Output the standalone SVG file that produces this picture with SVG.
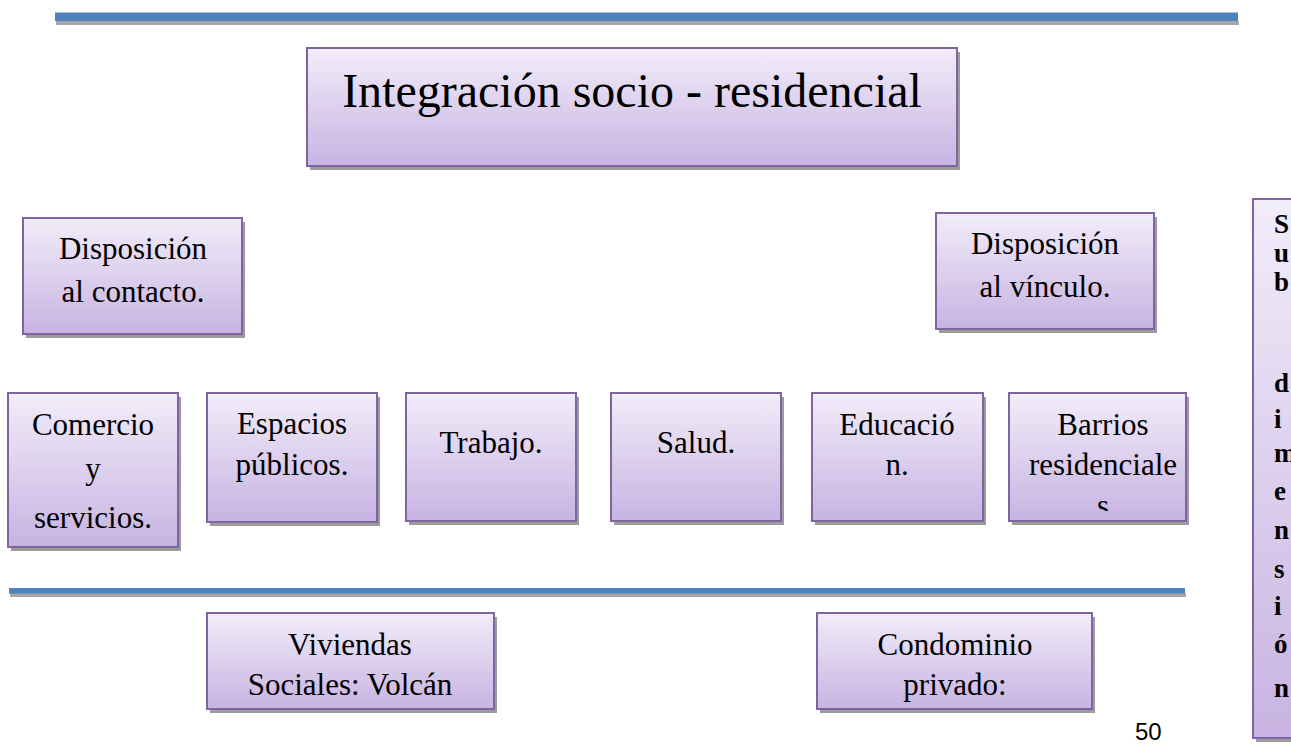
<svg xmlns="http://www.w3.org/2000/svg" width="1291" height="749" viewBox="0 0 1291 749">
<style>
.box{fill:url(#g);stroke:#8064a2;stroke-width:2}
.sh{fill:#9c9c9c}
.t{font-family:"Liberation Serif","Times New Roman",serif;font-size:31px;fill:#000;text-anchor:middle}
.tt{font-family:"Liberation Serif","Times New Roman",serif;font-size:48px;fill:#000;text-anchor:middle}
.v{font-family:"Liberation Serif","Times New Roman",serif;font-size:27px;font-weight:bold;fill:#000}
.blue{fill:#4f81bd}
.bsh{fill:#a6a6a6}
</style>
<defs>
<linearGradient id="g" x1="0" y1="0" x2="0" y2="1">
<stop offset="0" stop-color="#f1edf9"/>
<stop offset="1" stop-color="#c8b3e2"/>
</linearGradient>
<clipPath id="cb"><rect x="1009" y="393" width="178" height="118"/></clipPath>
</defs>
<rect width="1291" height="749" fill="#fff"/>
<g id="rules">
<rect class="bsh" x="56" y="21" width="1183" height="4"/>
<rect class="blue" x="55" y="12.5" width="1183" height="8.5"/>
<rect class="bsh" x="10" y="593" width="1176" height="4"/>
<rect class="blue" x="9" y="588" width="1176" height="5.5"/>
</g>
<g id="connectors"></g>
<g id="title">
<rect class="sh" x="310" y="52" width="650" height="118"/>
<rect class="box" x="307" y="48" width="650" height="118"/>
<text class="tt" x="632" y="107">Integración socio - residencial</text>
</g>
<g id="contacto">
<rect class="sh" x="26" y="222" width="219" height="116"/>
<rect class="box" x="23" y="218" width="219" height="116"/>
<text class="t" x="133" y="259">Disposición</text>
<text class="t" x="133" y="302">al contacto.</text>
</g>
<g id="vinculo">
<rect class="sh" x="939" y="217" width="218" height="116"/>
<rect class="box" x="936" y="213" width="218" height="116"/>
<text class="t" x="1045" y="254">Disposición</text>
<text class="t" x="1045" y="297">al vínculo.</text>
</g>
<g id="comercio">
<rect class="sh" x="11" y="397" width="170" height="154"/>
<rect class="box" x="8" y="393" width="170" height="154"/>
<text class="t" x="93" y="435">Comercio</text>
<text class="t" x="93" y="479">y</text>
<text class="t" x="93" y="528">servicios.</text>
</g>
<g id="espacios">
<rect class="sh" x="210" y="397" width="170" height="129"/>
<rect class="box" x="207" y="393" width="170" height="129"/>
<text class="t" x="292" y="434">Espacios</text>
<text class="t" x="292" y="475">públicos.</text>
</g>
<g id="trabajo">
<rect class="sh" x="409" y="397" width="170" height="128"/>
<rect class="box" x="406" y="393" width="170" height="128"/>
<text class="t" x="491" y="453">Trabajo.</text>
</g>
<g id="salud">
<rect class="sh" x="614" y="397" width="170" height="128"/>
<rect class="box" x="611" y="393" width="170" height="128"/>
<text class="t" x="696" y="453">Salud.</text>
</g>
<g id="educacion">
<rect class="sh" x="815" y="397" width="171" height="128"/>
<rect class="box" x="812" y="393" width="171" height="128"/>
<text class="t" x="897" y="435">Educació</text>
<text class="t" x="897" y="475">n.</text>
</g>
<g id="barrios">
<rect class="sh" x="1012" y="397" width="177" height="128"/>
<rect class="box" x="1009" y="393" width="177" height="128"/>
<text class="t" x="1103" y="435">Barrios</text>
<text class="t" x="1103" y="475">residenciale</text>
<text class="t" x="1103" y="516" clip-path="url(#cb)">s</text>
</g>
<g id="viviendas">
<rect class="sh" x="210" y="617" width="287" height="96"/>
<rect class="box" x="207" y="613" width="287" height="96"/>
<text class="t" x="350" y="655">Viviendas</text>
<text class="t" x="350" y="695">Sociales: Volcán</text>
</g>
<g id="condominio">
<rect class="sh" x="820" y="617" width="275" height="96"/>
<rect class="box" x="817" y="613" width="275" height="96"/>
<text class="t" x="955" y="655">Condominio</text>
<text class="t" x="955" y="695">privado:</text>
</g>
<g id="subdimension">
<rect class="sh" x="1256" y="203" width="60" height="539"/>
<rect class="box" x="1253" y="199" width="60" height="539"/>
<text class="v" x="1274" y="233">S</text>
<text class="v" x="1274" y="262">u</text>
<text class="v" x="1274" y="291">b</text>
<text class="v" x="1274" y="392">d</text>
<text class="v" x="1274" y="428">i</text>
<text class="v" x="1274" y="462">m</text>
<text class="v" x="1274" y="500">e</text>
<text class="v" x="1274" y="539">n</text>
<text class="v" x="1274" y="578">s</text>
<text class="v" x="1274" y="615">i</text>
<text class="v" x="1274" y="653">ó</text>
<text class="v" x="1274" y="697">n</text>
</g>
<g id="pagenum">
<text x="1135" y="740" font-family="'Liberation Sans',Arial,sans-serif" font-size="24" fill="#000">50</text>
</g>
</svg>
